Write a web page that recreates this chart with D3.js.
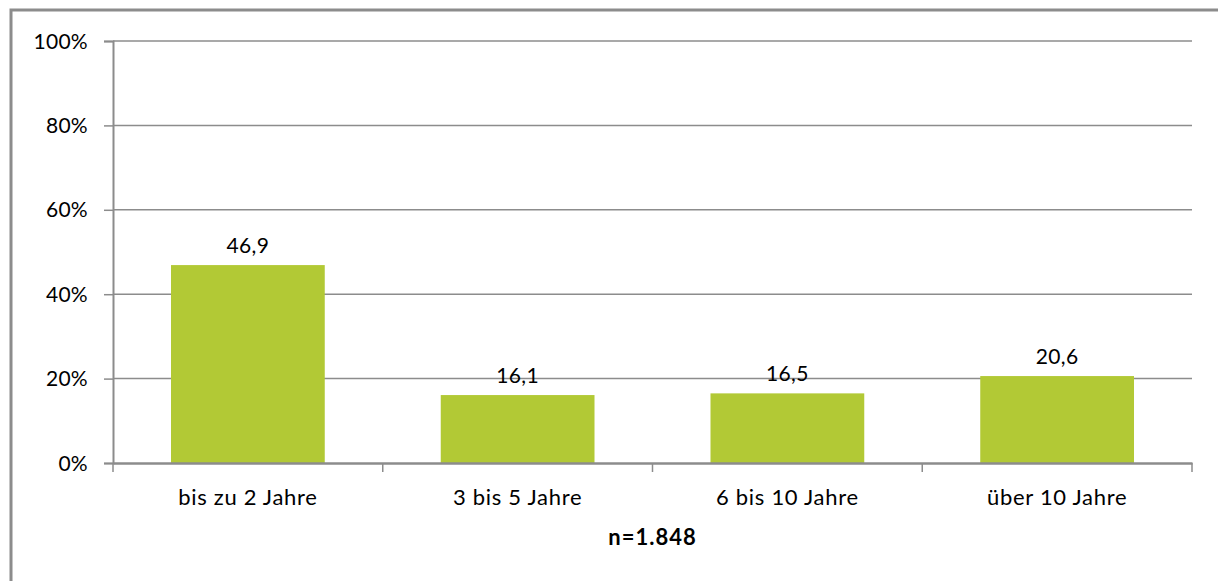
<!DOCTYPE html>
<html>
<head>
<meta charset="utf-8">
<script src="https://cdn.jsdelivr.net/npm/d3@7"></script>
<style>
  body { margin: 0; background: #fff; }
  text { font-family: Lato, "Open Sans", sans-serif; fill: #000; }
</style>
</head>
<body>
<svg id="chart" width="1218" height="581"></svg>
<script>
const categories = ['bis zu 2 Jahre', '3 bis 5 Jahre', '6 bis 10 Jahre', 'über 10 Jahre'];
const values = [46.9, 16.1, 16.5, 20.6];
const yTicks = [0, 20, 40, 60, 80, 100];
const note = 'n=1.848';

const MARGIN = { left: 113, top: 41, right: 1192, bottom: 463 };
const svg = d3.select('#chart');

// outer frame (runs off the right and bottom edge)
svg.append('rect')
  .attr('x', 11).attr('y', 10)
  .attr('width', 1230).attr('height', 600)
  .attr('fill', 'none').attr('stroke', '#8c8c8c').attr('stroke-width', 3);

const x = d3.scaleBand().domain(categories).range([MARGIN.left, MARGIN.right]).paddingInner(0.43).paddingOuter(0.215);
const xOuter = d3.scaleBand().domain(categories).range([MARGIN.left, MARGIN.right]);
const y = d3.scaleLinear().domain([0, 100]).range([MARGIN.bottom, MARGIN.top]);

// grid
svg.append('g')
  .selectAll('line')
  .data(yTicks.filter(d => d > 0))
  .join('line')
  .attr('x1', MARGIN.left).attr('x2', MARGIN.right)
  .attr('y1', d => y(d)).attr('y2', d => y(d))
  .attr('stroke', '#8c8c8c').attr('stroke-width', 1.5);

// y axis
const yAxis = svg.append('g')
  .attr('transform', `translate(${MARGIN.left},0)`)
  .call(d3.axisLeft(y).tickValues(yTicks).tickSize(9).tickPadding(16).tickFormat(d => d + '%'));
yAxis.select('.domain').attr('stroke', '#8c8c8c').attr('stroke-width', 2);
yAxis.selectAll('.tick line').attr('stroke', '#8c8c8c').attr('stroke-width', 1.5);
yAxis.selectAll('.tick text').style('font-size', '21px').style('letter-spacing', '0.3px').attr('dy', '0.34em');

// bars
svg.append('g')
  .selectAll('rect')
  .data(values)
  .join('rect')
  .attr('x', (d, i) => x(categories[i]))
  .attr('width', x.bandwidth())
  .attr('y', d => y(d))
  .attr('height', d => y(0) - y(d))
  .attr('fill', '#b2c935');

// value labels
svg.append('g')
  .selectAll('text')
  .data(values)
  .join('text')
  .attr('x', (d, i) => x(categories[i]) + x.bandwidth() / 2)
  .attr('y', d => y(d) - 12)
  .attr('text-anchor', 'middle')
  .style('font-size', '21px')
  .style('letter-spacing', '0.4px')
  .text(d => d.toFixed(1).replace('.', ','));

// x axis
const xAxis = svg.append('g')
  .attr('transform', `translate(0,${MARGIN.bottom})`)
  .call(d3.axisBottom(xOuter).tickSize(0).tickPadding(26));
xAxis.select('.domain').attr('stroke', '#8c8c8c').attr('stroke-width', 2.5);
xAxis.selectAll('.tick text').style('font-size', '22px').style('letter-spacing', '0.7px');

// category boundary ticks
svg.append('g')
  .selectAll('line')
  .data(d3.range(categories.length + 1))
  .join('line')
  .attr('x1', i => MARGIN.left + i * xOuter.step())
  .attr('x2', i => MARGIN.left + i * xOuter.step())
  .attr('y1', MARGIN.bottom).attr('y2', MARGIN.bottom + 9)
  .attr('stroke', '#8c8c8c').attr('stroke-width', 1.5);

svg.append('text')
  .attr('x', (MARGIN.left + MARGIN.right) / 2)
  .attr('y', 545)
  .attr('text-anchor', 'middle')
  .style('font-size', '22px')
  .style('font-weight', 'bold')
  .style('letter-spacing', '1px')
  .text(note);
</script>
</body>
</html>
